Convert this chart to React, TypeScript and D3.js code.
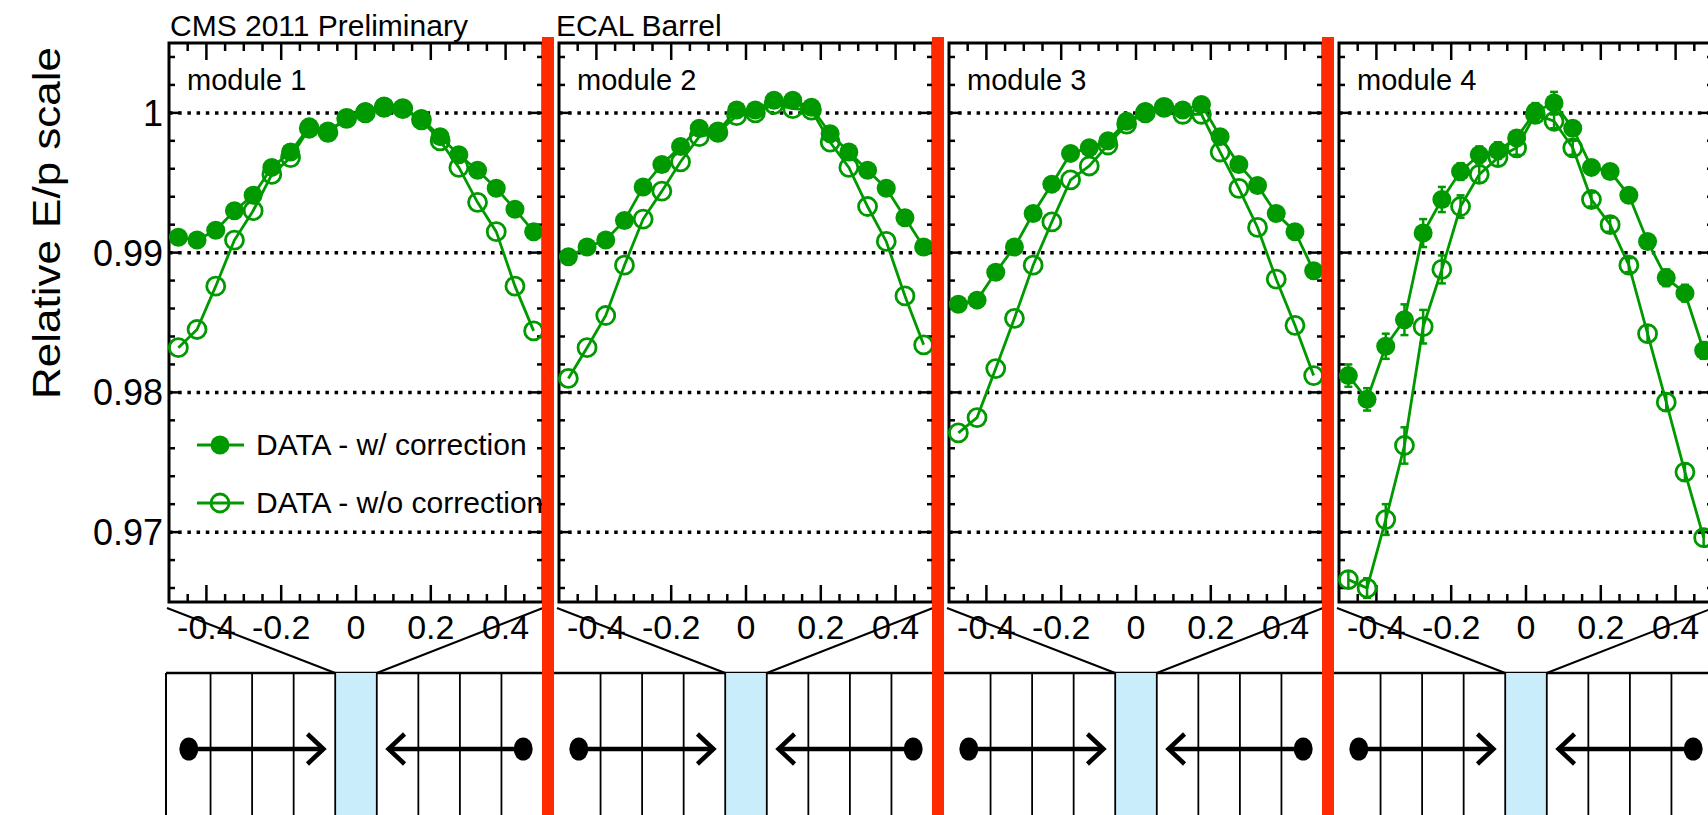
import React from 'react'
import * as d3 from 'd3'

// eta bin centres (same for every module)
const etaBins = [
  -0.475, -0.425, -0.375, -0.325, -0.275, -0.225, -0.175, -0.125, -0.075, -0.025,
  0.025, 0.075, 0.125, 0.175, 0.225, 0.275, 0.325, 0.375, 0.425, 0.475
]

const moduleNames = ['module 1', 'module 2', 'module 3', 'module 4']

// DATA - w/ correction
const corrM1 = [0.9911, 0.9909, 0.9916, 0.9930, 0.9941, 0.9961, 0.9972, 0.9990, 0.9987, 0.9996, 1.0001, 1.0005, 1.0003, 0.9996, 0.9983, 0.9970, 0.9959, 0.9946, 0.9931, 0.9915]
const corrM2 = [0.9897, 0.9904, 0.9909, 0.9923, 0.9947, 0.9963, 0.9976, 0.9989, 0.9987, 1.0002, 1.0002, 1.0009, 1.0009, 1.0004, 0.9985, 0.9972, 0.9959, 0.9946, 0.9925, 0.9904]
const corrM3 = [0.9863, 0.9866, 0.9886, 0.9904, 0.9928, 0.9949, 0.9971, 0.9975, 0.9980, 0.9994, 1.0001, 1.0004, 1.0002, 1.0006, 0.9983, 0.9963, 0.9948, 0.9928, 0.9915, 0.9887]
const corrM4 = [0.9812, 0.9795, 0.9833, 0.9852, 0.9914, 0.9938, 0.9958, 0.9970, 0.9973, 0.9982, 1.0001, 1.0007, 0.9989, 0.9961, 0.9958, 0.9941, 0.9908, 0.9882, 0.9871, 0.9830]

// DATA - w/o correction
const rawM1 = [0.9832, 0.9845, 0.9876, 0.9909, 0.9930, 0.9956, 0.9968, 0.9989, 0.9986, 0.9996, 1.0000, 1.0004, 1.0003, 0.9995, 0.9980, 0.9961, 0.9936, 0.9915, 0.9876, 0.9844]
const rawM2 = [0.9810, 0.9832, 0.9855, 0.9891, 0.9924, 0.9944, 0.9965, 0.9983, 0.9986, 0.9998, 1.0000, 1.0006, 1.0003, 1.0002, 0.9979, 0.9961, 0.9933, 0.9908, 0.9869, 0.9834]
const rawM3 = [0.9771, 0.9782, 0.9817, 0.9853, 0.9891, 0.9922, 0.9952, 0.9962, 0.9977, 0.9992, 1.0000, 1.0004, 0.9999, 0.9999, 0.9972, 0.9946, 0.9918, 0.9881, 0.9848, 0.9812]
const rawM4 = [0.9666, 0.9660, 0.9709, 0.9762, 0.9847, 0.9888, 0.9933, 0.9956, 0.9968, 0.9975, 0.9999, 0.9994, 0.9975, 0.9938, 0.9920, 0.9891, 0.9842, 0.9793, 0.9743, 0.9696]

// statistical errors, only visible outside the markers in module 4
const corrErrM4 = [0.0008, 0.0008, 0.0009, 0.0011, 0.0010, 0.0009, 0.0006, 0.0006, 0.0006, 0.0005, 0.0006, 0.0008, 0.0005, 0.0005, 0.0005, 0.0005, 0.0005, 0.0006, 0.0006, 0.0006]
const rawErrM4 = [0.0006, 0.0007, 0.0011, 0.0013, 0.0012, 0.0010, 0.0008, 0.0006, 0.0006, 0.0005, 0.0005, 0.0005, 0.0005, 0.0005, 0.0005, 0.0005, 0.0006, 0.0006, 0.0006, 0.0006]

const corrSeries = [corrM1, corrM2, corrM3, corrM4]
const rawSeries = [rawM1, rawM2, rawM3, rawM4]
const corrErrors = [null, null, null, corrErrM4]
const rawErrors = [null, null, null, rawErrM4]

const yTickValues = [0.97, 0.98, 0.99, 1.0]
const yTickLabels = ['0.97', '0.98', '0.99', '1']
const xTickValues = [-0.4, -0.2, 0, 0.2, 0.4]
const xTickLabels = ['-0.4', '-0.2', '0', '0.2', '0.4']

// detector sketch: crystal boundaries (in eta of the module) and arrow geometry
const crystalEdges = [-0.3889, -0.2778, -0.1667, -0.0556, 0.0556, 0.1667, 0.2778, 0.3889]
const gapCell = [-0.0556, 0.0556]
const arrowDots = [-0.447, 0.447]
const arrowTips = [-0.087, 0.087]

const W = 1708
const H = 815
const FONT = '"Liberation Sans", Arial, Helvetica, sans-serif'
const GREEN = '#009900'
const RED = '#ff2a00'

const panelX0 = 169
const pitch = 390
const panelW = 374
const plotTop = 43
const plotBottom = 602
const sketchTop = 673
const arrowY = 749

const y = d3.scaleLinear().domain([0.965, 1.005]).range([plotBottom, plotTop])
const yMinor = d3.range(0.966, 1.0049, 0.002)
const xMinor = d3.range(-0.45, 0.451, 0.05)

const Panel: React.FC<{ i: number }> = ({ i }) => {
  const left = panelX0 + pitch * i
  const right = left + panelW
  const x = d3.scaleLinear().domain([-0.5, 0.5]).range([left, right])

  const line = d3.line<number>()
    .x((_, k) => x(etaBins[k]))
    .y(d => y(d))

  const isMajorX = (v: number) => xTickValues.some(t => Math.abs(t - v) < 1e-6)
  const isMajorY = (v: number) => yTickValues.some(t => Math.abs(t - v) < 1e-6)

  const errBars = (vals: number[], errs: number[] | null) =>
    errs && vals.map((v, k) => (
      <g key={k} stroke={GREEN} strokeWidth={2.5}>
        <line x1={x(etaBins[k])} x2={x(etaBins[k])} y1={y(v - errs[k])} y2={y(v + errs[k])} />
        <line x1={x(etaBins[k]) - 4} x2={x(etaBins[k]) + 4} y1={y(v - errs[k])} y2={y(v - errs[k])} />
        <line x1={x(etaBins[k]) - 4} x2={x(etaBins[k]) + 4} y1={y(v + errs[k])} y2={y(v + errs[k])} />
      </g>
    ))

  return (
    <g>
      {/* dotted grid */}
      {yTickValues.map(v => (
        <line key={v} x1={left} x2={right} y1={y(v)} y2={y(v)}
          stroke="#000" strokeWidth={3.5} strokeDasharray="3.5 5.7" />
      ))}

      {/* ticks */}
      {xMinor.map(v => {
        const len = isMajorX(v) ? 17 : 8
        return (
          <g key={v} stroke="#000" strokeWidth={2.5}>
            <line x1={x(v)} x2={x(v)} y1={plotTop} y2={plotTop + len} />
            <line x1={x(v)} x2={x(v)} y1={plotBottom} y2={plotBottom - len} />
          </g>
        )
      })}
      {yMinor.map(v => {
        const len = isMajorY(v) ? 12 : 6
        return (
          <g key={v} stroke="#000" strokeWidth={2.5}>
            <line x1={left} x2={left + len} y1={y(v)} y2={y(v)} />
            <line x1={right} x2={right - len} y1={y(v)} y2={y(v)} />
          </g>
        )
      })}

      <rect x={left} y={plotTop} width={panelW} height={plotBottom - plotTop}
        fill="none" stroke="#000" strokeWidth={3} />

      {/* x tick labels */}
      {xTickValues.map((v, k) => (
        <text key={v} x={x(v)} y={639} textAnchor="middle" fontSize={34} fontFamily={FONT}>
          {xTickLabels[k]}
        </text>
      ))}

      {/* y tick labels on the first module only */}
      {i === 0 && yTickValues.map((v, k) => (
        <text key={v} x={left - 6} y={y(v) + 13} textAnchor="end" fontSize={36} fontFamily={FONT}>
          {yTickLabels[k]}
        </text>
      ))}

      <text x={left + 18} y={90} fontSize={29} fontFamily={FONT}>{moduleNames[i]}</text>

      {/* data */}
      {errBars(corrSeries[i], corrErrors[i])}
      {errBars(rawSeries[i], rawErrors[i])}
      <path d={line(corrSeries[i]) || ''} fill="none" stroke={GREEN} strokeWidth={2.8} />
      <path d={line(rawSeries[i]) || ''} fill="none" stroke={GREEN} strokeWidth={2.8} />
      {corrSeries[i].map((v, k) => (
        <circle key={'c' + k} cx={x(etaBins[k])} cy={y(v)} r={9.5} fill={GREEN} />
      ))}
      {rawSeries[i].map((v, k) => (
        <circle key={'r' + k} cx={x(etaBins[k])} cy={y(v)} r={9} fill="none" stroke={GREEN} strokeWidth={2.8} />
      ))}

      {/* detector sketch */}
      <rect x={x(gapCell[0])} y={sketchTop} width={x(gapCell[1]) - x(gapCell[0])} height={H - sketchTop}
        fill="#c9edfb" />
      {crystalEdges.map(e => (
        <line key={e} x1={x(e)} x2={x(e)} y1={sketchTop} y2={H} stroke="#000" strokeWidth={1.8} />
      ))}
      <line x1={left - 2} y1={608} x2={x(gapCell[0])} y2={sketchTop} stroke="#000" strokeWidth={2} />
      <line x1={right} y1={608} x2={x(gapCell[1])} y2={sketchTop} stroke="#000" strokeWidth={2} />
      {arrowDots.map((d, k) => {
        const tip = x(arrowTips[k])
        const dir = k === 0 ? 1 : -1
        return (
          <g key={d} stroke="#000" strokeWidth={4.5} fill="none">
            <line x1={x(d)} x2={tip - dir * 2} y1={arrowY} y2={arrowY} />
            <polyline points={`${tip - dir * 16},${arrowY - 15} ${tip},${arrowY} ${tip - dir * 16},${arrowY + 15}`} />
            <ellipse cx={x(d)} cy={arrowY} rx={9.5} ry={11.5} fill="#000" stroke="none" />
          </g>
        )
      })}
    </g>
  )
}

const Legend: React.FC = () => {
  const rows = [
    { label: 'DATA - w/ correction', filled: true, yy: 445 },
    { label: 'DATA - w/o correction', filled: false, yy: 503 }
  ]
  return (
    <g>
      {rows.map(r => (
        <g key={r.label}>
          <line x1={197} x2={244} y1={r.yy} y2={r.yy} stroke={GREEN} strokeWidth={3} />
          {r.filled
            ? <circle cx={220} cy={r.yy} r={9.5} fill={GREEN} />
            : <circle cx={220} cy={r.yy} r={9} fill="none" stroke={GREEN} strokeWidth={2.8} />}
          <text x={256} y={r.yy + 10} fontSize={30} fontFamily={FONT}>{r.label}</text>
        </g>
      ))}
    </g>
  )
}

export default function App() {
  const redLines = [0, 1, 2].map(i => panelX0 + pitch * i + panelW + 5)
  return (
    <svg width={W} height={H} style={{ position: 'fixed', left: 0, top: 0, background: '#fff' }}>
      <rect width={W} height={H} fill="#fff" />
      <line x1={166} x2={W} y1={sketchTop} y2={sketchTop} stroke="#000" strokeWidth={2.5} />
      <line x1={166} x2={166} y1={sketchTop} y2={H} stroke="#000" strokeWidth={2} />
      {moduleNames.map((_, i) => <Panel key={i} i={i} />)}
      <Legend />

      <text x={170} y={36} fontSize={30} fontFamily={FONT}>CMS 2011 Preliminary</text>
      <text x={556} y={36} fontSize={30} fontFamily={FONT}>ECAL Barrel</text>
      <text transform="translate(60,223) rotate(-90)" textAnchor="middle" fontSize={38}
        fontFamily={FONT} textLength={352} lengthAdjust="spacingAndGlyphs">
        Relative E/p scale
      </text>

      {redLines.map(rx => (
        <rect key={rx} x={rx - 6} y={37} width={12} height={H - 37} fill={RED} />
      ))}
    </svg>
  )
}
